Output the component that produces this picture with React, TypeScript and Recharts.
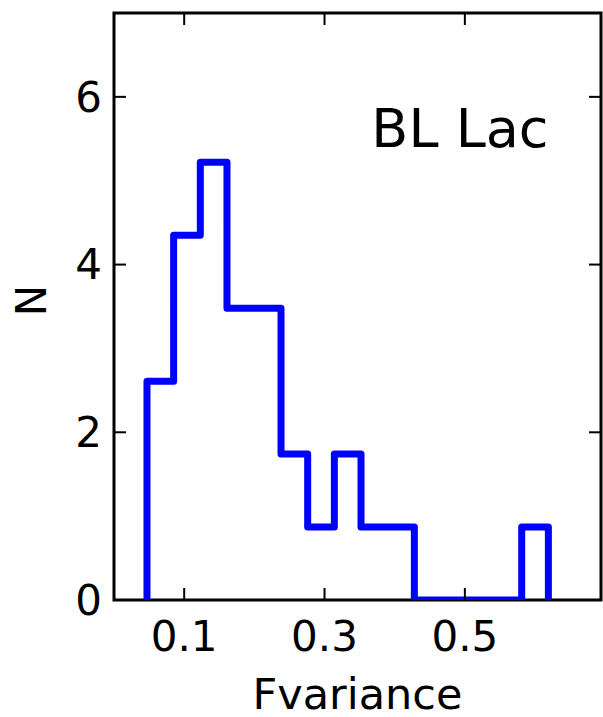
import {
  ComposedChart,
  Line,
  XAxis,
  YAxis,
  ReferenceDot,
  ReferenceArea,
  ReferenceLine,
} from "recharts";

// bin edges of the step histogram (Fvariance)
const binEdges = [
  0.047, 0.085, 0.123, 0.161, 0.2, 0.238, 0.276, 0.314, 0.352, 0.39, 0.428,
  0.466, 0.505, 0.543, 0.581, 0.619,
];
// histogram heights
const binHeights = [
  2.61, 4.35, 5.22, 3.48, 3.48, 1.74, 0.87, 1.74, 0.87, 0.87, 0, 0, 0, 0, 0.87,
];
const xTicks = [0.1, 0.3, 0.5];
const yTicks = [0, 2, 4, 6];

const X_DOMAIN: [number, number] = [0, 0.694];
const Y_DOMAIN: [number, number] = [0, 7];
// inward tick length, in data units (about 12px each way)
const X_TICK_LEN = 0.0171;
const Y_TICK_LEN = 0.143;

const FONT = "DejaVu Sans";

const points = [
  { x: binEdges[0], n: 0 },
  ...binHeights.map((h, i) => ({ x: binEdges[i], n: h })),
  { x: binEdges[binEdges.length - 1], n: 0 },
];

function NLabel({ viewBox }: { viewBox?: { x: number; y: number; height: number } }) {
  if (!viewBox) return null;
  const cx = viewBox.x + 31;
  const cy = viewBox.y + viewBox.height / 2 - 6;
  return (
    <text
      x={cx}
      y={cy}
      transform={`rotate(-90, ${cx}, ${cy})`}
      textAnchor="middle"
      dominantBaseline="central"
      fontFamily={FONT}
      fontSize={42}
      fill="#000"
    >
      N
    </text>
  );
}

const tickStyle = { fill: "#000", fontSize: 42, fontFamily: FONT };
const tickMark = { stroke: "#000", strokeWidth: 2 };

export default function App() {
  return (
    <div style={{ position: "absolute", left: 0, top: 0, width: 603, height: 717, background: "#fff" }}>
      <ComposedChart
        width={603}
        height={717}
        data={points}
        margin={{ top: 13, right: 2, bottom: 0, left: 0 }}
      >
        <XAxis
          dataKey="x"
          type="number"
          domain={X_DOMAIN}
          ticks={xTicks}
          allowDataOverflow
          height={117}
          tick={tickStyle}
          tickSize={0}
          tickMargin={21}
          axisLine={false}
          tickLine={false}
          label={{
            value: "Fvariance",
            position: "insideBottom",
            offset: 8,
            fill: "#000",
            fontSize: 43,
            fontFamily: FONT,
          }}
        />
        <YAxis
          type="number"
          domain={Y_DOMAIN}
          ticks={yTicks}
          allowDataOverflow
          width={114}
          tick={tickStyle}
          tickSize={0}
          tickMargin={12}
          axisLine={false}
          tickLine={false}
          label={{ content: <NLabel /> }}
        />
        <Line
          dataKey="n"
          type="stepAfter"
          stroke="#0000ff"
          strokeWidth={7}
          strokeLinejoin="round"
          dot={false}
          activeDot={false}
          isAnimationActive={false}
        />
        {/* axes frame */}
        <ReferenceArea
          x1={X_DOMAIN[0]}
          x2={X_DOMAIN[1]}
          y1={Y_DOMAIN[0]}
          y2={Y_DOMAIN[1]}
          fill="none"
          fillOpacity={0}
          stroke="#000"
          strokeWidth={3}
          ifOverflow="visible"
        />
        {/* inward tick marks on all four sides */}
        {xTicks.map((t) => (
          <ReferenceLine
            key={`xb${t}`}
            segment={[{ x: t, y: Y_DOMAIN[0] }, { x: t, y: Y_DOMAIN[0] + Y_TICK_LEN }]}
            {...tickMark}
          />
        ))}
        {xTicks.map((t) => (
          <ReferenceLine
            key={`xt${t}`}
            segment={[{ x: t, y: Y_DOMAIN[1] }, { x: t, y: Y_DOMAIN[1] - Y_TICK_LEN }]}
            {...tickMark}
          />
        ))}
        {yTicks.map((t) => (
          <ReferenceLine
            key={`yl${t}`}
            segment={[{ x: X_DOMAIN[0], y: t }, { x: X_DOMAIN[0] + X_TICK_LEN, y: t }]}
            {...tickMark}
          />
        ))}
        {yTicks.map((t) => (
          <ReferenceLine
            key={`yr${t}`}
            segment={[{ x: X_DOMAIN[1], y: t }, { x: X_DOMAIN[1] - X_TICK_LEN, y: t }]}
            {...tickMark}
          />
        ))}
        <ReferenceDot
          x={0.493}
          y={5.63}
          r={0}
          fill="none"
          stroke="none"
          label={{
            value: "BL Lac",
            position: "center",
            fill: "#000",
            fontSize: 54,
            fontFamily: FONT,
          }}
        />
      </ComposedChart>
    </div>
  );
}
